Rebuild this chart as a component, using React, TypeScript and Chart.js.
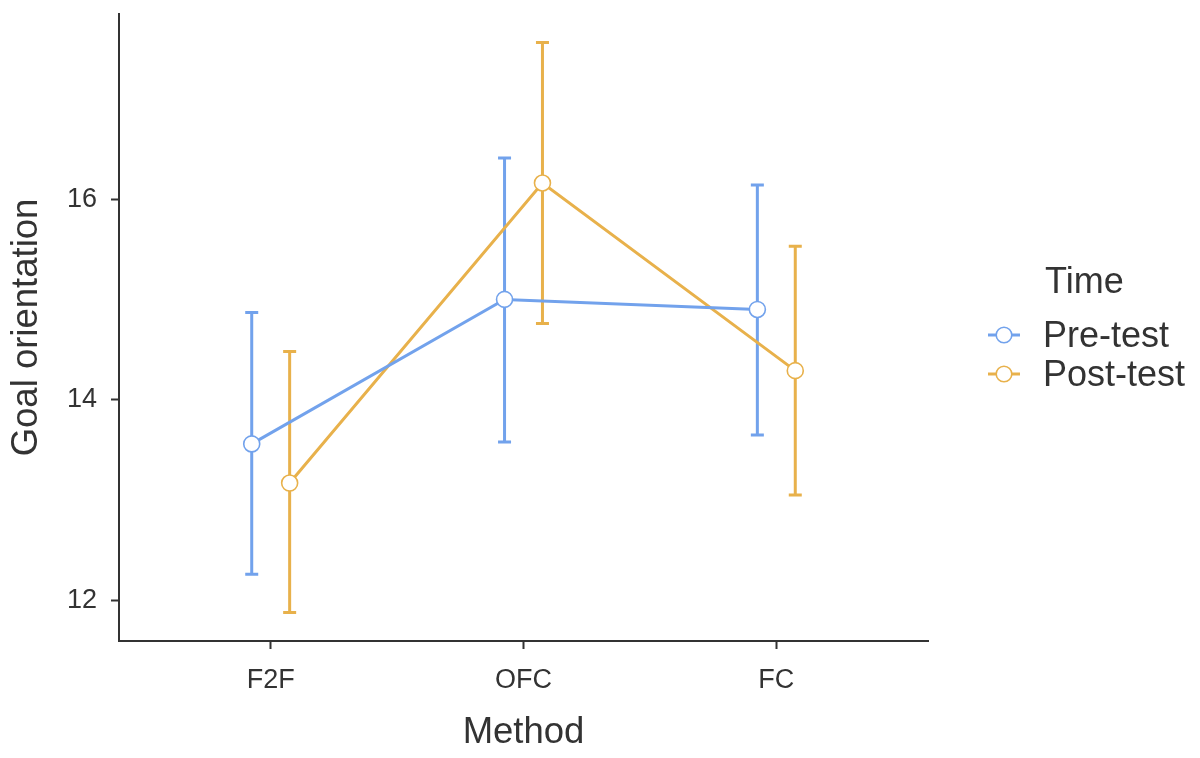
import React, { useEffect, useRef } from 'react';
import { Chart, registerables } from 'chart.js';

Chart.register(...registerables);

const categories = ['F2F', 'OFC', 'FC'];
const yTicks = [12, 14, 16];

const preMean = [13.56, 15.0, 14.9];
const preLow = [12.26, 13.58, 13.65];
const preHigh = [14.87, 16.41, 16.14];

const postMean = [13.17, 16.16, 14.29];
const postLow = [11.88, 14.76, 13.05];
const postHigh = [14.48, 17.56, 15.53];

const seriesNames = ['Pre-test', 'Post-test'];

const BLUE = '#72a2ec';
const ORANGE = '#e8b14b';
const INK = '#333333';
const FONT = '"Liberation Sans", Arial, Helvetica, sans-serif';
const DODGE = 0.075;
const LW = 3;

const toPoints = (means: number[], shift: number) =>
  means.map((m, i) => ({ x: i + 1 + shift, y: m }));

// error bars drawn under lines and points
const errorBars = {
  id: 'errorBars',
  beforeDatasetsDraw(chart: any) {
    const { ctx, scales } = chart;
    const x = scales.x;
    const y = scales.y;
    const sets = [
      { low: preLow, high: preHigh, shift: -DODGE, color: BLUE },
      { low: postLow, high: postHigh, shift: DODGE, color: ORANGE },
    ];
    ctx.save();
    ctx.lineWidth = LW;
    ctx.lineCap = 'butt';
    sets.forEach((s) => {
      ctx.strokeStyle = s.color;
      s.low.forEach((lo, i) => {
        const px = x.getPixelForValue(i + 1 + s.shift);
        const pLo = y.getPixelForValue(lo);
        const pHi = y.getPixelForValue(s.high[i]);
        ctx.beginPath();
        ctx.moveTo(px, pLo);
        ctx.lineTo(px, pHi);
        ctx.moveTo(px - 6.5, pLo);
        ctx.lineTo(px + 6.5, pLo);
        ctx.moveTo(px - 6.5, pHi);
        ctx.lineTo(px + 6.5, pHi);
        ctx.stroke();
      });
    });
    ctx.restore();
  },
};

const LegendKey: React.FC<{ color: string }> = ({ color }) => (
  <svg width="34" height="20" style={{ display: 'block' }}>
    <line x1="1" y1="10" x2="33" y2="10" stroke={color} strokeWidth={LW} />
    <circle cx="17" cy="10" r="7.8" fill="#fff" stroke={color} strokeWidth="1.6" />
  </svg>
);

const App: React.FC = () => {
  const canvasRef = useRef<HTMLCanvasElement | null>(null);
  const chartRef = useRef<Chart | null>(null);

  useEffect(() => {
    document.body.style.margin = '0';
    if (!canvasRef.current) return;
    if (chartRef.current) chartRef.current.destroy();

    const lineSet = (label: string, data: any[], color: string) => ({
      label,
      data,
      borderColor: color,
      backgroundColor: '#ffffff',
      borderWidth: LW,
      pointRadius: 8,
      pointBorderWidth: 1.6,
      pointBorderColor: color,
      pointBackgroundColor: '#ffffff',
    });

    chartRef.current = new Chart(canvasRef.current, {
      type: 'line',
      data: {
        datasets: [
          lineSet(seriesNames[0], toPoints(preMean, -DODGE), BLUE),
          lineSet(seriesNames[1], toPoints(postMean, DODGE), ORANGE),
        ],
      },
      options: {
        responsive: false,
        animation: false,
        layout: { padding: { top: 14, right: 272, left: 0, bottom: 0 } },
        plugins: {
          legend: { display: false },
          tooltip: { enabled: false },
        },
        scales: {
          x: {
            type: 'linear',
            min: 0.4,
            max: 3.6,
            afterBuildTicks: (scale: any) => {
              scale.ticks = categories.map((_, i) => ({ value: i + 1 }));
            },
            afterFit: (scale: any) => {
              scale.height = 117;
              scale.paddingLeft = 0;
              scale.paddingRight = 0;
            },
            ticks: {
              color: INK,
              font: { family: FONT, size: 27 },
              padding: 15,
              maxRotation: 0,
              callback: (v: any) => categories[Number(v) - 1] ?? '',
            },
            grid: {
              drawOnChartArea: false,
              drawTicks: true,
              tickLength: 8,
              tickWidth: 2,
              tickColor: INK,
            },
            border: { display: true, color: INK, width: 2 },
            title: {
              display: true,
              text: 'Method',
              color: INK,
              font: { family: FONT, size: 36.5 },
              padding: { top: 0, bottom: 3 },
            },
          },
          y: {
            type: 'linear',
            min: 11.596,
            max: 17.844,
            afterBuildTicks: (scale: any) => {
              scale.ticks = yTicks.map((v) => ({ value: v }));
            },
            afterFit: (scale: any) => {
              scale.width = 119;
              scale.paddingTop = 0;
              scale.paddingBottom = 0;
            },
            ticks: {
              color: INK,
              font: { family: FONT, size: 27 },
              padding: 14,
            },
            grid: {
              drawOnChartArea: false,
              drawTicks: true,
              tickLength: 8,
              tickWidth: 2,
              tickColor: INK,
            },
            border: { display: true, color: INK, width: 2 },
            title: {
              display: true,
              text: 'Goal orientation',
              color: INK,
              font: { family: FONT, size: 36.5 },
              padding: { top: 5, bottom: 0 },
            },
          },
        },
      },
      plugins: [errorBars],
    });

    return () => {
      if (chartRef.current) {
        chartRef.current.destroy();
        chartRef.current = null;
      }
    };
  }, []);

  const legendText: React.CSSProperties = {
    fontFamily: FONT,
    fontSize: 36,
    color: INK,
    lineHeight: '40px',
  };

  return (
    <div style={{ position: 'relative', width: 1200, height: 758, background: '#fff' }}>
      <canvas ref={canvasRef} width={1200} height={758} />
      <div style={{ position: 'absolute', left: 1045, top: 261, ...legendText }}>Time</div>
      <div style={{ position: 'absolute', left: 987, top: 315 }}>
        {seriesNames.map((name, i) => (
          <div key={name} style={{ display: 'flex', alignItems: 'center', height: 39 }}>
            <LegendKey color={i === 0 ? BLUE : ORANGE} />
            <span style={{ ...legendText, marginLeft: 22 }}>{name}</span>
          </div>
        ))}
      </div>
    </div>
  );
};

export default App;
